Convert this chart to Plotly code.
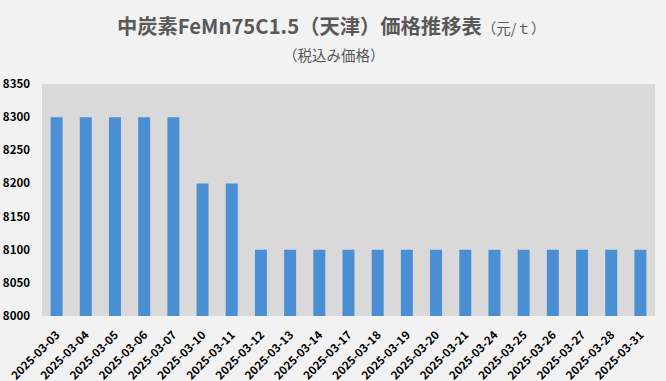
import plotly.graph_objects as go

dates = ["2025-03-03", "2025-03-04", "2025-03-05", "2025-03-06", "2025-03-07",
         "2025-03-10", "2025-03-11", "2025-03-12", "2025-03-13", "2025-03-14",
         "2025-03-17", "2025-03-18", "2025-03-19", "2025-03-20", "2025-03-21",
         "2025-03-24", "2025-03-25", "2025-03-26", "2025-03-27", "2025-03-28",
         "2025-03-31"]
prices = [8300, 8300, 8300, 8300, 8300, 8200, 8200, 8100, 8100, 8100,
          8100, 8100, 8100, 8100, 8100, 8100, 8100, 8100, 8100, 8100, 8100]
y_ticks = [8000, 8050, 8100, 8150, 8200, 8250, 8300, 8350]

FONT = "Noto Sans CJK JP"
W, H = 666, 381
M_L, M_R, M_T, M_B = 42, 11, 84, 65

fig = go.Figure()
fig.add_trace(go.Bar(
    x=dates, y=prices, base=0,
    marker=dict(color="#4A8FD3", line=dict(width=0)),
    hoverinfo="skip",
))

fig.update_layout(
    width=W, height=H,
    paper_bgcolor="#F2F2F2",
    plot_bgcolor="#D9D9D9",
    margin=dict(l=M_L, r=M_R, t=M_T, b=M_B, autoexpand=False),
    bargap=0.59,
    showlegend=False,
    font=dict(family=FONT, color="#000000"),
    xaxis=dict(
        type="category", tickangle=-45, automargin=False,
        tickfont=dict(family=FONT, size=11.5, color="#000000", weight="bold"),
        showgrid=False, zeroline=False, showline=False, ticks="",
        ticklabelstandoff=9,
    ),
    yaxis=dict(
        range=[8000, 8350], tickvals=y_ticks, automargin=False,
        tickfont=dict(family=FONT, size=11.5, color="#000000", weight="bold"),
        showgrid=False, zeroline=False, showline=False, ticks="",
        ticklabelstandoff=11,
    ),
)

h_plot = H - M_T - M_B
w_plot = W - M_L - M_R
def ypix(p):
    return (H - M_B - p) / h_plot
def xpix(p):
    return (p - M_L) / w_plot

fig.add_annotation(text="<b>中炭素FeMn75C1.5（天津）価格推移表</b><span style='font-size:14.5px'>（元/ｔ）</span>",
                   x=xpix(331), y=ypix(25), xref="paper", yref="paper", showarrow=False,
                   xanchor="center", yanchor="middle",
                   font=dict(family=FONT, size=20.3, color="#595959"))
fig.add_annotation(text="（税込み価格）",
                   x=xpix(333.5), y=ypix(54.5), xref="paper", yref="paper", showarrow=False,
                   xanchor="center", yanchor="middle",
                   font=dict(family=FONT, size=14.5, color="#595959"))

fig.write_html("out.html", config={"displayModeBar": False},
               post_script="document.body.style.margin='0';")
